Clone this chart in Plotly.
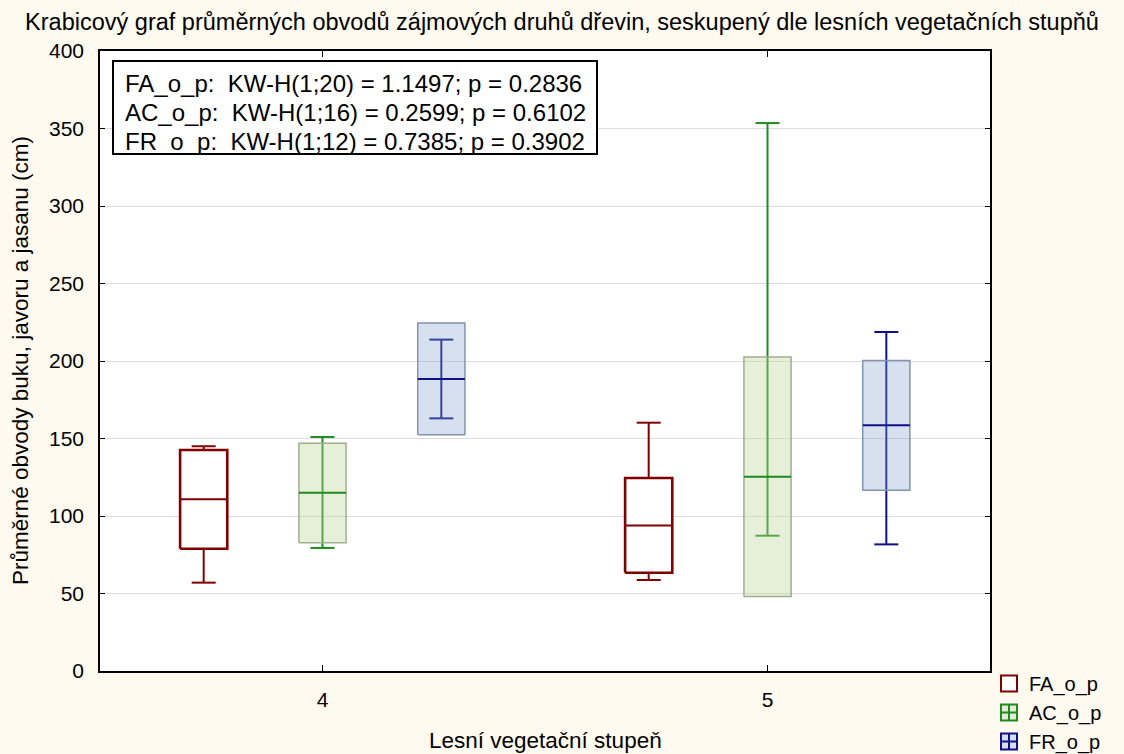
import plotly.graph_objects as go

# ---- data ----
groups = [4, 5]
series = ["FA_o_p", "AC_o_p", "FR_o_p"]
# per series: values for group 4, group 5
median = {"FA_o_p": [110.8, 93.8], "AC_o_p": [115.0, 125.4], "FR_o_p": [188.4, 158.5]}
box_lo = {"FA_o_p": [78.9, 63.4], "AC_o_p": [82.8, 48.0], "FR_o_p": [152.5, 116.6]}
box_hi = {"FA_o_p": [142.6, 124.5], "AC_o_p": [147.0, 202.6], "FR_o_p": [224.5, 200.4]}
wh_lo = {"FA_o_p": [57.0, 58.7], "AC_o_p": [79.4, 87.3], "FR_o_p": [163.0, 81.7]}
wh_hi = {"FA_o_p": [145.0, 160.2], "AC_o_p": [151.0, 353.5], "FR_o_p": [213.8, 218.7]}
stats_text = [
    "FA_o_p:&nbsp;&nbsp;KW-H(1;20) = 1.1497; p = 0.2836",
    "AC_o_p:&nbsp;&nbsp;KW-H(1;16) = 0.2599; p = 0.6102",
    "FR_o_p:&nbsp;&nbsp;KW-H(1;12) = 0.7385; p = 0.3902",
]
yticks = [0, 50, 100, 150, 200, 250, 300, 350, 400]

# ---- styles ----
offset = {"FA_o_p": -0.267, "AC_o_p": 0.0, "FR_o_p": 0.267}
line_col = {"FA_o_p": "#800000", "AC_o_p": "#1f8a1f", "FR_o_p": "#10108a"}
fill_col = {"FA_o_p": "#ffffff", "AC_o_p": "rgba(190,212,150,0.38)", "FR_o_p": "rgba(135,165,205,0.34)"}
legend_fill = {"FA_o_p": "#ffffff", "AC_o_p": "#e3edd5", "FR_o_p": "#d6e0ee"}
legend_sym = {"FA_o_p": "square", "AC_o_p": "square-cross", "FR_o_p": "square-cross"}
border_col = {"FA_o_p": "#800000", "AC_o_p": "#a3ad8f", "FR_o_p": "#8293b0"}
border_w = {"FA_o_p": 2.6, "AC_o_p": 1.5, "FR_o_p": 1.5}
half_box = 0.053
half_cap = 0.027

FONT = "Liberation Sans, Arial, sans-serif"
L, R, T, B, W, H = 100, 134, 51, 83, 1124, 754
PW, PH = W - L - R, H - T - B

fig = go.Figure()

for s in series:
    for gi, g in enumerate(groups):
        xc = g + offset[s]
        lo, hi = wh_lo[s][gi], wh_hi[s][gi]
        # whisker + caps
        fig.add_trace(go.Scatter(
            x=[xc, xc, None, xc - half_cap, xc + half_cap, None, xc - half_cap, xc + half_cap],
            y=[lo, hi, None, lo, lo, None, hi, hi],
            mode="lines", line=dict(color=line_col[s], width=2),
            showlegend=False, hoverinfo="skip"))
    for gi, g in enumerate(groups):
        xc = g + offset[s]
        q1, q3 = box_lo[s][gi], box_hi[s][gi]
        fig.add_trace(go.Scatter(
            x=[xc - half_box, xc + half_box, xc + half_box, xc - half_box, xc - half_box],
            y=[q1, q1, q3, q3, q1],
            mode="lines", fill="toself", fillcolor=fill_col[s],
            line=dict(color=border_col[s], width=border_w[s]),
            showlegend=False, hoverinfo="skip"))
        m = median[s][gi]
        fig.add_trace(go.Scatter(
            x=[xc - half_box, xc + half_box], y=[m, m],
            mode="lines", line=dict(color=line_col[s], width=2),
            showlegend=False, hoverinfo="skip"))

# legend entries (box-like icons)
for s in series:
    fig.add_trace(go.Scatter(
        x=[None], y=[None], mode="markers", name=s,
        marker=dict(symbol=legend_sym[s], size=16, color=legend_fill[s],
                    line=dict(color=line_col[s], width=2))))

# stats box
fig.add_shape(type="rect", xref="paper", yref="paper",
              x0=(113 - L) / PW, x1=(597 - L) / PW,
              y0=(T + PH - 154) / PH, y1=(T + PH - 61) / PH,
              line=dict(color="black", width=2), fillcolor="white", layer="above")
for i, t in enumerate(stats_text):
    fig.add_annotation(xref="paper", yref="paper", x=(123 - L) / PW,
                       y=(T + PH - (83 + 29 * i)) / PH, xanchor="left", yanchor="middle",
                       text=t, showarrow=False, font=dict(size=24, color="black", family=FONT))

# axis titles
fig.add_annotation(xref="paper", yref="paper", x=0.5, y=-(740 - (T + PH)) / PH,
                   xanchor="center", yanchor="middle", showarrow=False,
                   text="Lesní vegetační stupeň", font=dict(size=22.5, family=FONT, color="black"))
fig.add_annotation(xref="paper", yref="paper", x=-(L - 20) / PW, y=0.5,
                   xanchor="center", yanchor="middle", showarrow=False, textangle=-90,
                   text="Průměrné obvody buku, javoru a jasanu (cm)", font=dict(size=22.5, family=FONT, color="black"))

fig.update_layout(
    width=W, height=H,
    paper_bgcolor="#fffaf0", plot_bgcolor="white",
    margin=dict(l=L, r=R, t=T, b=B, autoexpand=False),
    font=dict(family=FONT, size=21, color="black"),
    title=dict(text="Krabicový graf průměrných obvodů zájmových druhů dřevin, seskupený dle lesních vegetačních stupňů",
               x=0.5, xref="container", xanchor="center", y=1 - 22 / H, yanchor="middle",
               font=dict(size=23.5, family=FONT)),
    xaxis=dict(range=[3.5, 5.5], tickvals=groups, ticktext=[str(g) for g in groups],
               ticks="inside", ticklen=6, tickcolor="black", showgrid=False, zeroline=False,
               showline=True, linecolor="black", linewidth=1.5, mirror="ticks",
               automargin=False, ticklabelstandoff=9, tickfont=dict(size=21)),
    yaxis=dict(range=[0, 400], tickvals=yticks, ticks="inside", ticklen=5, tickcolor="black",
               showgrid=True, gridcolor="#dcdcdc", gridwidth=1, zeroline=False,
               showline=True, linecolor="black", linewidth=1.5, mirror="ticks",
               automargin=False, ticklabelstandoff=10, tickfont=dict(size=21)),
    legend=dict(x=(989 - L) / PW, xanchor="left", y=(T + PH - 664) / PH, yanchor="top",
                bgcolor="rgba(0,0,0,0)", font=dict(size=20), tracegroupgap=0,
                itemwidth=30),
    showlegend=True,
)

fig.write_html("out.html")
